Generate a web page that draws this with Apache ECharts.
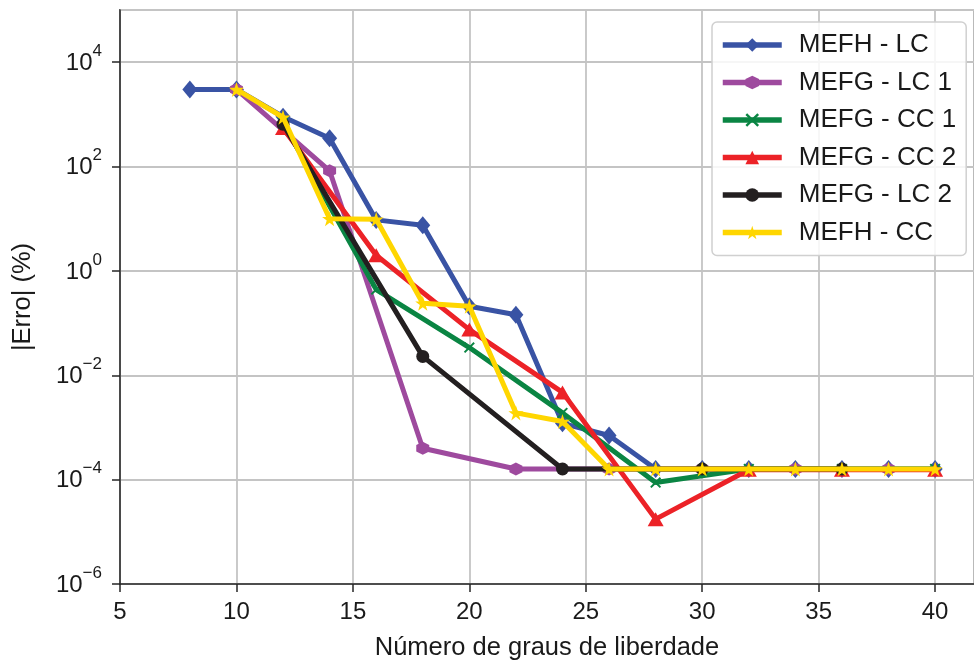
<!DOCTYPE html>
<html>
<head>
<meta charset="utf-8">
<script src="https://cdn.jsdelivr.net/npm/echarts@6/dist/echarts.min.js"></script>
<style>html,body{margin:0;padding:0;background:#fff}#c{width:974px;height:666px}</style>
</head>
<body>
<div id="c"></div>
<script>
// ---- data ----
const seriesNames = ['MEFH - LC', 'MEFG - LC 1', 'MEFG - CC 1', 'MEFG - CC 2', 'MEFG - LC 2', 'MEFH - CC'];
const xMefhLc  = [8,10,12,14,16,18,20,22,24,26,28,30,32,34,36,38,40];
const mefhLc   = [3000,3000,900,350,9.5,7.5,0.21,0.145,1.2e-3,7e-4,1.6e-4,1.6e-4,1.6e-4,1.6e-4,1.6e-4,1.6e-4,1.6e-4];
const xMefgLc1 = [10,14,18,22,26,30,34,38];
const mefgLc1  = [3000,83,4e-4,1.6e-4,1.6e-4,1.6e-4,1.6e-4,1.6e-4];
const xMefgCc1 = [12,16,20,24,28,32,36,40];
const mefgCc1  = [700,0.44,0.034,1.9e-3,8.8e-5,1.6e-4,1.6e-4,1.6e-4];
const xMefgCc2 = [12,16,20,24,28,32,36,40];
const mefgCc2  = [550,2.0,0.075,4.7e-3,1.75e-5,1.55e-4,1.55e-4,1.55e-4];
const xMefgLc2 = [12,18,24,30,36];
const mefgLc2  = [650,0.023,1.6e-4,1.6e-4,1.6e-4];
const xMefhCc  = [10,12,14,16,18,20,22,24,26,28,30,32,34,36,38,40];
const mefhCc   = [3000,880,10,9.8,0.24,0.21,1.9e-3,1.3e-3,1.6e-4,1.6e-4,1.6e-4,1.6e-4,1.6e-4,1.6e-4,1.6e-4,1.6e-4];
const xTicks = [5,10,15,20,25,30,35,40];
const yTickExponents = [-6,-4,-2,0,2,4];

// ---- styles ----
const FONT = 'Liberation Sans, Arial, sans-serif';
const colors = ['#3953a4', '#9e4a9e', '#0a8543', '#ec2227', '#231f20', '#ffd600'];
const HEX = 'path://M0,-1 L0.866,-0.5 L0.866,0.5 L0,1 L-0.866,0.5 L-0.866,-0.5 Z';
const XMARK = 'path://M-1,-0.75 L-0.75,-1 L0,-0.25 L0.75,-1 L1,-0.75 L0.25,0 L1,0.75 L0.75,1 L0,0.25 L-0.75,1 L-1,0.75 L-0.25,0 Z';
const STAR = 'path://M0,-1 L0.2245,-0.309 L0.9511,-0.309 L0.3633,0.118 L0.5878,0.809 L0,0.382 L-0.5878,0.809 L-0.3633,0.118 L-0.9511,-0.309 L-0.2245,-0.309 Z';
const symbols = ['diamond', HEX, XMARK, 'triangle', 'circle', STAR];
const symbolSizes = [[15,18], 13, 11, [16,14], 13, 15];

const xs = [xMefhLc, xMefgLc1, xMefgCc1, xMefgCc2, xMefgLc2, xMefhCc];
const ys = [mefhLc, mefgLc1, mefgCc1, mefgCc2, mefgLc2, mefhCc];

const series = seriesNames.map((name, i) => ({
  name: name,
  type: 'line',
  data: xs[i].map((x, j) => [x, ys[i][j]]),
  symbol: symbols[i],
  symbolSize: symbolSizes[i],
  showAllSymbol: true,
  lineStyle: { color: colors[i], width: 5 },
  itemStyle: { color: colors[i], borderWidth: 0 },
  emphasis: { disabled: true },
  z: 2 + i
}));

const chart = echarts.init(document.getElementById('c'), null, { renderer: 'canvas' });
chart.setOption({
  animation: false,
  backgroundColor: '#ffffff',
  grid: { left: 120, right: -2, top: 10, bottom: 81, show: true, borderColor: '#262626', borderWidth: 1.5, backgroundColor: 'transparent' },
  legend: {
    orient: 'vertical', left: 712, top: 22,
    padding: [9, 10, 9, 8],
    itemWidth: 59, itemHeight: 17, itemGap: 9.5,
    data: seriesNames,
    lineStyle: { width: 5.5 },
    textStyle: { fontSize: 26, fontFamily: FONT, color: '#1a1a1a', lineHeight: 28, padding: [0, 0, 0, 12] },
    backgroundColor: 'rgba(255,255,255,0.85)',
    borderColor: '#d0d0d0', borderWidth: 1.5, borderRadius: 5
  },
  xAxis: {
    type: 'value', min: 5, max: 41.67, interval: 5,
    name: 'Número de graus de liberdade', nameLocation: 'middle', nameGap: 51,
    nameTextStyle: { fontSize: 25.5, fontFamily: FONT, color: '#1a1a1a' },
    axisLine: { show: true, lineStyle: { color: '#262626', width: 1.5 } },
    axisTick: { show: true, length: 8, lineStyle: { color: '#262626', width: 1.5 } },
    axisLabel: {
      fontSize: 24, fontFamily: FONT, color: '#1a1a1a', margin: 16, showMaxLabel: false,
      formatter: v => xTicks.indexOf(v) >= 0 ? String(v) : ''
    },
    splitLine: { show: true, lineStyle: { color: '#c4c4c4', width: 1.8 } }
  },
  yAxis: {
    type: 'log', logBase: 10, min: 1e-6, max: 1e5, interval: 2,
    name: '|Erro| (%)', nameLocation: 'middle', nameGap: 84, nameRotate: 90,
    nameTextStyle: { fontSize: 25.5, fontFamily: FONT, color: '#1a1a1a' },
    axisLine: { show: true, lineStyle: { color: '#262626', width: 1.5 } },
    axisTick: { show: true, length: 8, lineStyle: { color: '#262626', width: 1.5 } },
    minorTick: { show: false },
    axisLabel: {
      margin: 18, showMaxLabel: false, verticalAlign: 'middle',
      formatter: v => {
        const e = Math.round(Math.log10(v));
        if (yTickExponents.indexOf(e) < 0) return '';
        return '{b|10}{s|' + (e < 0 ? '\u2212' + (-e) : e) + '}';
      },
      rich: {
        b: { fontSize: 24, fontFamily: FONT, color: '#1a1a1a', lineHeight: 24, padding: [2, 0, 0, 0] },
        s: { fontSize: 17, fontFamily: FONT, color: '#1a1a1a', lineHeight: 17, padding: [0, 0, 22, 0] }
      }
    },
    splitLine: { show: true, lineStyle: { color: '#c4c4c4', width: 1.8 } }
  },
  series: series
});
</script>
</body>
</html>
